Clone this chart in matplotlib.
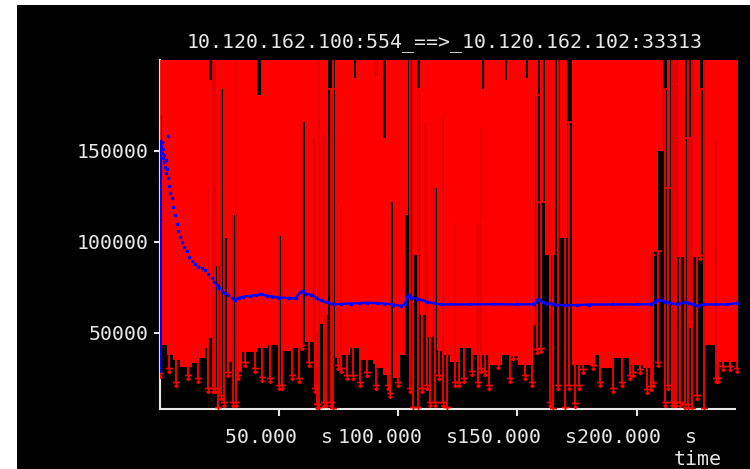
import numpy as np
import matplotlib

matplotlib.use("Agg")
import matplotlib.pyplot as plt
from matplotlib.patches import Rectangle
from matplotlib.path import Path

# --- colours ---
BG, INK, RED, BLUE = "#000000", "#e6e6e6", "#ff0000", "#0000ff"
FONT = "DejaVu Sans Mono"
TOP = 210000  # segments that leave the top of the plot

TITLE = "10.120.162.100:554_==>_10.120.162.102:33313"
x_ticks = [50, 100, 150, 200]
y_ticks = [50000, 100000, 150000]

# --- red sample bands: start time, low value, high value (None = no samples) ---
blk_start = [0.5, 1.0, 3.0, 5.8, 8.6, 13.5, 16.3, 19.1, 20.2, 20.9,
             22.1, 23.7, 25.4, 26.7, 28.1, 30.2, 31.6, 32.3, 34.4, 40.7,
             42.5, 45.6, 49.5, 50.9, 55.4, 59.6, 60.8, 64.5, 65.6, 66.6,
             67.3, 68.7, 69.4, 70.8, 73.6, 75.7, 76.4, 79.9, 81.3, 82.4,
             84.0, 89.6, 90.3, 91.7, 93.8, 94.9, 96.6, 98.0, 100.8, 102.9,
             104.3, 106.4, 107.8, 109.2, 111.3, 112.7, 114.8, 116.2, 118.3, 119.3,
             121.8, 123.2, 124.2, 125.3, 130.9, 133.0, 133.7, 134.4, 135.3, 136.2,
             137.9, 143.4, 144.8, 145.5, 150.4, 153.2, 154.3, 156.3, 157.4, 158.5,
             159.5, 160.5, 161.6, 163.0, 164.1, 165.8, 167.9, 170.7, 172.8, 182.6,
             184.6, 190.2, 197.2, 202.8, 205.5, 206.2, 209.0, 211.0, 212.5, 214.0,
             217.4, 220.2, 223.7, 226.5, 228.6, 232.8, 233.5]
blk_end_last = 242.6
blk_low = [170000, 43400, 38000, 35200, 31500, 33500, 36000, 41600, 129500, 47000,
           None, 87000, 184400, 102000, 34300, 115000, None, 28800, 39800, 41600,
           41600, 43400, 104000, 40000, 42000, 166000, 45000, 157000, 50000, None,
           55000, 160000, 60000, None, 36000, 120300, 38000, 41600, 41600, 42000,
           35000, 33000, 31000, 31000, 27000, 27000, 122000, 25000, 38000, 115000,
           None, 92900, None, 60000, 166000, 48000, 130000, 40000, 170000, 38000,
           34300, 111000, 34300, 41600, 38000, 111000, 38000, 163000, 38000, 38000,
           32400, 38000, 38000, 38000, 32400, 32400, 32400, 54400, 180800, None,
           122000, None, 92900, 60000, 92900, None, 102000, None, 32400, 38000,
           30600, 36200, 32400, 30600, 93000, 95000, 150000, None, 129000, None,
           92000, None, 92000, None, 43400, 157000, 34300]
blk_high = [TOP, TOP, TOP, TOP, TOP, TOP, TOP, TOP, TOP, 189000,
            None, TOP, TOP, TOP, TOP, TOP, None, TOP, TOP, 180800,
            TOP, TOP, TOP, TOP, TOP, TOP, TOP, TOP, TOP, None,
            TOP, TOP, TOP, None, TOP, TOP, TOP, TOP, 190000, TOP,
            TOP, TOP, 191000, TOP, 157000, TOP, TOP, TOP, TOP, TOP,
            None, TOP, None, TOP, TOP, TOP, TOP, TOP, TOP, TOP,
            TOP, TOP, TOP, TOP, TOP, TOP, TOP, TOP, 184000, TOP,
            TOP, TOP, 189000, TOP, TOP, 190000, TOP, TOP, TOP, None,
            TOP, None, TOP, TOP, TOP, None, TOP, None, TOP, TOP,
            TOP, TOP, TOP, TOP, TOP, TOP, TOP, None, TOP, None,
            TOP, None, TOP, None, TOP, TOP, TOP]

# --- individual red samples (thin segments with arrow at the low end) ---
line_t = [0.2, 4.0, 6.8, 11.8, 16.0, 20.5, 22.5, 23.3, 24.5, 25.8,
          27.2, 28.6, 30.7, 31.9, 33.0, 35.8, 40.0, 42.8, 46.3, 50.2,
          51.2, 55.4, 58.5, 59.6, 62.5, 65.2, 66.0, 67.0, 68.9, 69.8,
          71.8, 72.9, 75.0, 76.0, 78.5, 80.9, 84.0, 86.8, 90.7, 95.9,
          96.6, 100.1, 105.0, 106.1, 108.5, 110.0, 112.0, 113.5, 115.5, 117.0,
          118.8, 120.5, 123.7, 125.5, 127.4, 130.9, 133.3, 134.9, 136.2, 138.0,
          142.0, 147.0, 148.3, 150.4, 153.0, 155.9, 158.0, 160.0, 163.5, 164.8,
          167.0, 170.0, 171.5, 174.0, 175.6, 177.5, 181.8, 184.6, 190.2, 193.7,
          197.2, 198.6, 201.4, 204.1, 205.9, 206.9, 209.0, 211.8, 213.2, 214.8,
          215.6, 216.5, 218.1, 220.2, 221.6, 222.3, 223.0, 225.1, 226.5, 228.0,
          233.1, 234.2, 236.2, 239.0, 241.9]
line_lo = [28000, 30600, 23300, 27000, 25100, 19600, 19600, 19600, 9600, 16000,
           12300, 28800, 12300, 12300, 27000, 34300, 30600, 26000, 25100, 21500,
           21500, 27000, 25000, 43400, 34300, 19600, 11000, 9600, 12300, 12300,
           12300, 9000, 32400, 30600, 27000, 27000, 23300, 28800, 21500, 21500,
           16900, 23300, 19600, 9600, 9600, 19600, 21500, 12300, 12300, 27000,
           12300, 9600, 23300, 23300, 25100, 29000, 23300, 30600, 29000, 21500,
           33000, 25000, 38000, 38000, 27000, 23300, 41000, 41600, 12300, 9000,
           21500, 9600, 21500, 11500, 21500, 30000, 32400, 23300, 19600, 23300,
           27000, 28800, 30000, 19000, 21000, 23000, 34300, 12000, 21500, 12000,
           12000, 12000, 12000, 11000, 11000, 56000, 9000, 16000, 92900, 9000,
           25000, 25100, 32000, 32000, 31000]
line_hi = [TOP, TOP, TOP, TOP, TOP, 129500, TOP, TOP, TOP, 184400,
           TOP, TOP, TOP, TOP, TOP, TOP, TOP, TOP, TOP, 104000,
           TOP, TOP, TOP, TOP, TOP, 157000, TOP, TOP, 160000, TOP,
           184000, TOP, TOP, 120300, TOP, TOP, TOP, TOP, TOP, TOP,
           TOP, TOP, TOP, TOP, 184000, TOP, 166000, TOP, 130000, TOP,
           170000, TOP, 111000, TOP, TOP, TOP, 111000, 163000, TOP, TOP,
           TOP, TOP, TOP, TOP, TOP, TOP, 180800, 122000, TOP, TOP,
           TOP, TOP, 166000, TOP, TOP, TOP, TOP, TOP, TOP, TOP,
           TOP, TOP, TOP, TOP, 93000, 102000, 95000, 184000, 129500, TOP,
           TOP, TOP, 187000, 157000, TOP, 157000, TOP, TOP, 184000, TOP,
           157000, TOP, TOP, TOP, TOP]

# --- blue samples ---
blue_col_t, blue_col_lo, blue_col_hi = 0.4, 28000, 156000
dot_t = [0.8, 1.0, 1.2, 1.4, 1.6, 1.8, 2.0, 2.3, 2.6, 2.9, 3.2, 3.4, 3.7, 4.1,
         4.6, 5.1, 5.8, 6.5, 7.2, 7.9, 8.6, 9.3, 10.3, 11.4, 12.4, 13.5, 14.9,
         16.3, 17.7, 19.1, 20.5, 21.9, 23.0, 24.0, 25.0, 26.0, 27.4, 28.8, 30.2]
dot_v = [153000, 149000, 155000, 146000, 151000, 144000, 148000, 141000, 145000,
         138000, 140000, 158000, 135000, 131000, 127000, 124000, 119000, 115000,
         110000, 106000, 103000, 100000, 97500, 95000, 92000, 89500, 88000, 86500,
         85500, 84500, 82500, 80000, 78000, 76500, 74500, 73000, 72000, 71000, 69500]
blue_t = [31.6, 33.5, 35.0, 38.0, 40.4, 42.5, 45.0, 47.3, 50.0, 54.3, 57.0, 59.0,
          60.0, 61.5, 63.4, 65.5, 67.6, 70.0, 73.2, 76.0, 80.1, 84.0, 87.1, 91.0,
          94.1, 98.0, 101.0, 102.8, 103.8, 104.5, 105.5, 108.0, 110.0, 112.2, 115.0,
          117.8, 121.9, 130.0, 140.0, 150.0, 156.5, 157.6, 158.5, 159.5, 160.5,
          162.0, 164.4, 166.0, 170.0, 175.0, 180.0, 190.0, 200.0, 206.0, 207.5,
          208.5, 210.0, 212.0, 214.0, 217.0, 220.0, 222.0, 223.5, 225.5, 228.0,
          233.0, 238.0, 242.0]
blue_v = [68300, 69500, 70000, 70500, 70700, 71300, 70500, 70000, 69500, 69200,
          69000, 72500, 73000, 71500, 71000, 69500, 67900, 66800, 65700, 66000,
          66200, 66400, 66600, 66400, 66200, 65600, 64900, 66000, 70000, 71000,
          69500, 68900, 68000, 67100, 66300, 65700, 65700, 65700, 65800, 65700,
          65800, 67000, 68500, 68000, 66800, 66200, 66200, 65500, 65300, 65300,
          65600, 65700, 65700, 65800, 67000, 68000, 68200, 67300, 66500, 65800,
          66800, 66500, 65800, 64900, 65700, 65700, 65700, 66500]

# --- figure ---
fig = plt.figure(figsize=(7.5, 4.69), dpi=100)
fig.patch.set_facecolor("white")
fig.add_artist(Rectangle((17 / 750, 0), 733 / 750, 464 / 469, transform=fig.transFigure,
                         facecolor=BG, edgecolor="none", zorder=-10))
ax = fig.add_axes([159.5 / 750, 1 - 409 / 469, (738 - 159.5) / 750, (409 - 60) / 469])
ax.set_facecolor(BG)

# bands
edges = np.array(blk_start + [blk_end_last])
lo = np.array([np.nan if v is None else v for v in blk_low], dtype=float)
hi = np.array([np.nan if v is None else v for v in blk_high], dtype=float)
ax.bar(edges[:-1], hi - lo, width=np.diff(edges), bottom=lo, align="edge",
       color=RED, linewidth=0, zorder=3)

# single samples
arrow = Path([(-1, 0), (1, 0), (0, 0), (0, -1.4), (-0.55, -0.85), (0, -1.4), (0.55, -0.85)],
             [Path.MOVETO, Path.LINETO, Path.MOVETO, Path.LINETO,
              Path.MOVETO, Path.LINETO, Path.LINETO])
ax.vlines(line_t, line_lo, line_hi, color=RED, lw=1.3, zorder=3)
ax.plot(line_t, line_lo, ls="none", marker=arrow, ms=7, mec=RED, mfc="none", mew=1.2, zorder=3)
cut = [(t, h) for t, h in zip(line_t, line_hi) if h < TOP]
ax.plot([c[0] for c in cut], [c[1] for c in cut], ls="none", marker="_", ms=6,
        mec=RED, mew=1.2, zorder=3)

# blue
ax.vlines([blue_col_t], [blue_col_lo], [blue_col_hi], color=BLUE, lw=1.5, zorder=4)
ax.plot(dot_t, dot_v, ls="none", marker="s", ms=1.7, color=BLUE, zorder=4)
ax.plot(blue_t, blue_v, color=BLUE, lw=1.7, marker="s", ms=1.6, zorder=4)

ax.set_xlim(0, 242.4)
ax.set_ylim(8240, 200000)
ax.set_xticks(x_ticks)
ax.set_xticklabels([f"{v:.3f}  s" for v in x_ticks])
ax.set_yticks(y_ticks)
ax.set_yticklabels([str(v) for v in y_ticks])
for s in ("top", "right"):
    ax.spines[s].set_visible(False)
for s in ("left", "bottom"):
    ax.spines[s].set_color(INK)
    ax.spines[s].set_linewidth(1.5)
    ax.spines[s].set_zorder(2)
ax.spines["bottom"].set_bounds(0, 241.2)
ax.tick_params(axis="y", length=4, width=1.5, color=INK, pad=4, labelsize=14.3,
               labelcolor=INK, labelfontfamily=FONT)
ax.tick_params(axis="x", length=5, width=1.5, color=INK, pad=9, labelsize=14.3,
               labelcolor=INK, labelfontfamily=FONT)

fig.text(445 / 750, 1 - 42 / 469, TITLE, ha="center", va="center", fontsize=14.3,
         family=FONT, color=INK)
fig.text(698 / 750, 1 - 459 / 469, "time", ha="center", va="center", fontsize=14.3,
         family=FONT, color=INK)

fig.savefig("out.png", dpi=100, facecolor="white")
